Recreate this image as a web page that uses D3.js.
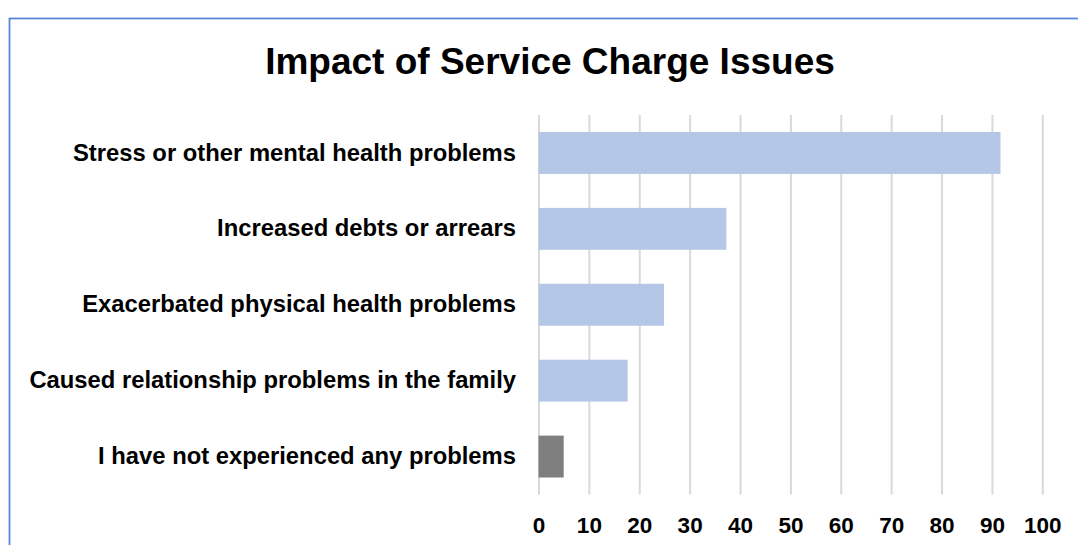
<!DOCTYPE html>
<html>
<head>
<meta charset="utf-8">
<script src="https://cdn.jsdelivr.net/npm/d3@7"></script>
<style>
  html, body { margin: 0; padding: 0; background: #ffffff; }
  svg { display: block; }
  text { font-family: "Liberation Sans", Arial, Helvetica, sans-serif; font-weight: bold; fill: #000; }
</style>
</head>
<body>
<svg id="chart" width="1078" height="545"></svg>
<script>
// Survey responses: share of respondents reporting each impact (%)
const categories = [
  "Stress or other mental health problems",
  "Increased debts or arrears",
  "Exacerbated physical health problems",
  "Caused relationship problems in the family",
  "I have not experienced any problems"
];
const values = [91.7, 37.3, 24.9, 17.7, 5.0];
const barColors = ["#B4C7E7", "#B4C7E7", "#B4C7E7", "#B4C7E7", "#7F7F7F"];
const tickValues = [0, 10, 20, 30, 40, 50, 60, 70, 80, 90, 100];
const title = "Impact of Service Charge Issues";

const svg = d3.select("#chart");

// Chart frame
svg.append("rect")
  .attr("x", 9.5).attr("y", 18.5)
  .attr("width", 1100).attr("height", 600)
  .attr("fill", "#ffffff")
  .attr("stroke", "#5A87D8")
  .attr("stroke-width", 1.8);

const plot = { left: 538.5, right: 1042.3, top: 115, bottom: 494.5 };

const x = d3.scaleLinear().domain([0, 100]).range([plot.left, plot.right]);
const y = d3.scaleBand().domain(categories)
  .range([plot.top, plot.bottom])
  .paddingInner(0.448).paddingOuter(0.224);

// Title
svg.append("text")
  .attr("x", 550).attr("y", 74.3)
  .attr("text-anchor", "middle")
  .style("font-size", "37px")
  .text(title);

// Vertical gridlines + value axis
const xAxis = svg.append("g")
  .attr("transform", `translate(0,${plot.bottom})`)
  .call(d3.axisBottom(x)
    .tickValues(tickValues)
    .tickSize(-(plot.bottom - plot.top))
    .tickPadding(22.8)
    .tickFormat(d3.format("d")));
xAxis.select(".domain").remove();
xAxis.selectAll(".tick line")
  .attr("stroke", "#D9D9D9")
  .attr("stroke-width", 2);
xAxis.selectAll(".tick text")
  .style("font-size", "22.5px")
  .style("font-family", "'Liberation Sans', Arial, sans-serif")
  .style("font-weight", "bold")
  .attr("fill", "#000");

// Category axis
const yAxis = svg.append("g")
  .attr("transform", `translate(${plot.left},0)`)
  .call(d3.axisLeft(y).tickSize(0).tickPadding(22.5));
yAxis.select(".domain").remove();
yAxis.selectAll(".tick text")
  .style("font-size", "23.8px")
  .style("font-family", "'Liberation Sans', Arial, sans-serif")
  .style("font-weight", "bold")
  .attr("fill", "#000");

// Bars
svg.append("g")
  .selectAll("rect")
  .data(categories)
  .join("rect")
  .attr("x", x(0))
  .attr("y", d => y(d))
  .attr("width", (d, i) => x(values[i]) - x(0))
  .attr("height", y.bandwidth())
  .attr("fill", (d, i) => barColors[i]);
</script>
</body>
</html>
